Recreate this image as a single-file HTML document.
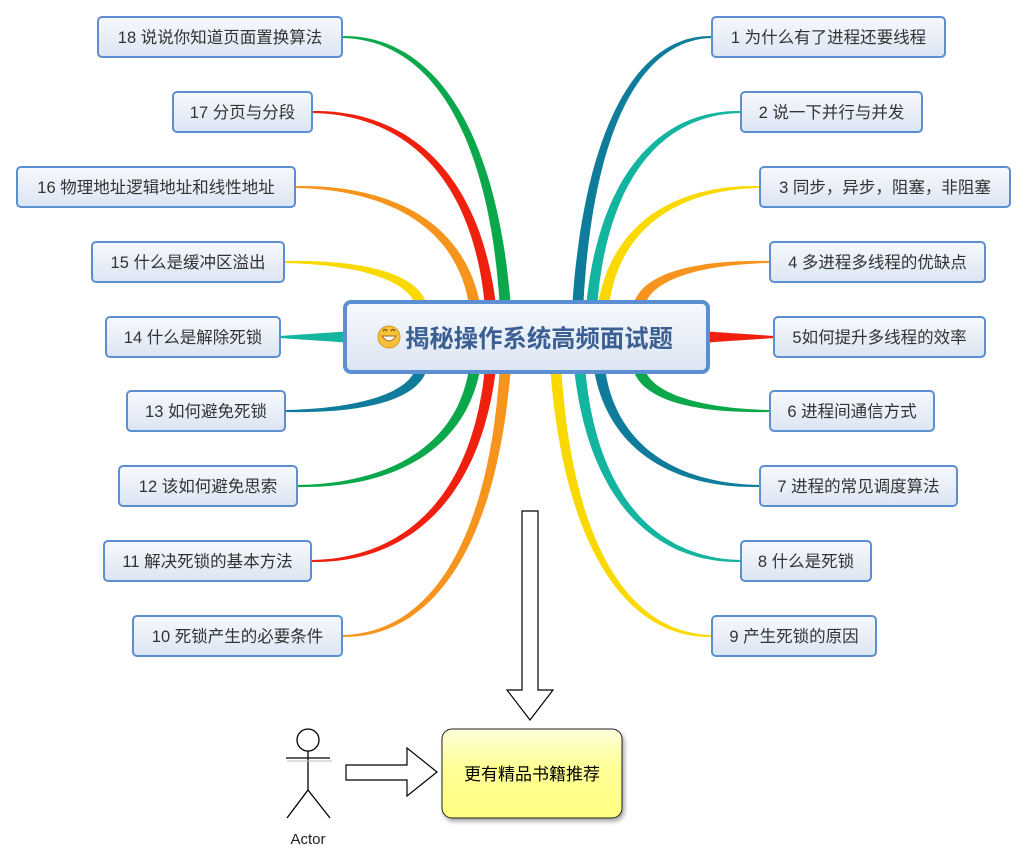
<!DOCTYPE html>
<html><head><meta charset="utf-8"><style>
html,body{margin:0;padding:0;background:#fff;}
svg{display:block;font-family:"Liberation Sans","Noto Sans CJK SC",sans-serif;}
</style></head><body>
<svg id="s" width="1029" height="851" viewBox="0 0 1029 851" xmlns="http://www.w3.org/2000/svg">
<defs>
<linearGradient id="ng" x1="0" y1="0" x2="0" y2="1"><stop offset="0" stop-color="#f7f9fd"/><stop offset="1" stop-color="#dbe5f3"/></linearGradient>
<linearGradient id="yg" x1="0" y1="0" x2="0" y2="1"><stop offset="0" stop-color="#ffffdd"/><stop offset="0.4" stop-color="#ffff99"/><stop offset="1" stop-color="#ffff80"/></linearGradient>
<filter id="sh" x="-10%" y="-10%" width="130%" height="130%"><feDropShadow dx="2" dy="3" stdDeviation="2" flood-color="#000" flood-opacity="0.35"/></filter>
</defs>
<g id="br"></g>
<g id="nodes"></g>
<rect x="345" y="302" width="363" height="70" rx="6" fill="url(#ng)" stroke="#5b8fd1" stroke-width="4"/>
<circle cx="389" cy="337" r="11" fill="#f7c23a" stroke="#d99a1a" stroke-width="1"/>
<path d="M382 336 Q389 346 396 336 Z" fill="#fff" stroke="#a0621a" stroke-width="1"/>
<path d="M383 331 q2 -3 4 0 M391 331 q2 -3 4 0" stroke="#7a4a10" stroke-width="1.3" fill="none"/>
<text x="405" y="347" text-anchor="start" font-size="24.5" font-weight="bold" fill="#3b5f93" textLength="268" lengthAdjust="spacingAndGlyphs">揭秘操作系统高频面试题</text>
<path d="M522 511 H538 V690 H553 L530 720 L507 690 H522 Z" fill="#fff" stroke="#000" stroke-width="1.2"/>
<path d="M346 765 H407 V748 L437 772 L407 796 V780 H346 Z" fill="#fff" stroke="#000" stroke-width="1.2"/>
<rect x="442" y="729" width="180" height="89" rx="10" fill="url(#yg)" stroke="#222" stroke-width="1" filter="url(#sh)"/>
<text x="532" y="780" text-anchor="middle" font-size="17" fill="#000">更有精品书籍推荐</text>
<g stroke="#000" stroke-width="1.3" fill="none">
<circle cx="308" cy="740" r="11" fill="#fff"/>
<line x1="308" y1="751" x2="308" y2="790"/>
<line x1="286" y1="758" x2="330" y2="758"/>
<line x1="308" y1="790" x2="287" y2="818"/>
<line x1="308" y1="790" x2="330" y2="818"/>
</g>
<line x1="287" y1="761" x2="332" y2="761" stroke="#bbb" stroke-width="1"/>
<text x="308" y="844" text-anchor="middle" font-size="15" fill="#222">Actor</text>
</svg>
<script>
var NS="http://www.w3.org/2000/svg";
var C={tb:"#0e7c9a",te:"#14b5a0",ye:"#f9d900",or:"#f7941d",re:"#f0200f",gr:"#0aa84a"};
var R=[["1 为什么有了进程还要线程",712,945,37,578,302,C.tb],
["2 说一下并行与并发",741,922,112,592,302,C.te],
["3 同步，异步，阻塞，非阻塞",760,1010,187,604,302,C.ye],
["4 多进程多线程的优缺点",770,985,262,640,302,C.or],
["5如何提升多线程的效率",774,985,337,708,337,C.re],
["6 进程间通信方式",770,934,411,640,372,C.gr],
["7 进程的常见调度算法",760,957,486,600,372,C.tb],
["8 什么是死锁",741,871,561,580,372,C.te],
["9 产生死锁的原因",712,876,636,556,372,C.ye]];
var L=[["18 说说你知道页面置换算法",98,342,37,505,302,C.gr],
["17 分页与分段",173,312,112,490,302,C.re],
["16 物理地址逻辑地址和线性地址",17,295,187,474,302,C.or],
["15 什么是缓冲区溢出",92,284,262,420,302,C.ye],
["14 什么是解除死锁",106,280,337,345,337,C.te],
["13 如何避免死锁",127,285,411,420,372,C.tb],
["12 该如何避免思索",119,297,486,474,372,C.gr],
["11 解决死锁的基本方法",104,311,561,490,372,C.re],
["10 死锁产生的必要条件",133,342,636,505,372,C.or]];
var br=document.getElementById("br"),nd=document.getElementById("nodes");
function bez(p,t){var u=1-t;return [u*u*u*p[0][0]+3*u*u*t*p[1][0]+3*u*t*t*p[2][0]+t*t*t*p[3][0],u*u*u*p[0][1]+3*u*u*t*p[1][1]+3*u*t*t*p[2][1]+t*t*t*p[3][1]];}
function branch(sx,sy,ex,ey,col){
 var p;
 if(sy===337&&ey===337){p=[[sx,sy],[sx+(ex-sx)*0.3,sy],[sx+(ex-sx)*0.7,ey],[ex,ey]];}
 else p=[[sx,sy],[sx+(ex-sx)*0.08,sy+(ey-sy)*0.65],[sx+(ex-sx)*0.45,ey],[ex,ey]];
 var N=40,a=[],b=[];
 for(var i=0;i<=N;i++){var t=i/N,q=bez(p,t),q2=bez(p,Math.min(1,t+0.01)),q1=bez(p,Math.max(0,t-0.01));
  var dx=q2[0]-q1[0],dy=q2[1]-q1[1],l=Math.hypot(dx,dy)||1,w=(11*(1-t)+2*t)/2;
  a.push([q[0]-dy/l*w,q[1]+dx/l*w]);b.push([q[0]+dy/l*w,q[1]-dx/l*w]);}
 var d="M"+a.map(function(v){return v[0].toFixed(1)+" "+v[1].toFixed(1)}).join(" L")+" L"+b.reverse().map(function(v){return v[0].toFixed(1)+" "+v[1].toFixed(1)}).join(" L")+"Z";
 var e=document.createElementNS(NS,"path");e.setAttribute("d",d);e.setAttribute("fill",col);br.appendChild(e);
}
function node(t,x1,x2,cy){
 var r=document.createElementNS(NS,"rect");r.setAttribute("x",x1);r.setAttribute("y",cy-20);r.setAttribute("width",x2-x1);r.setAttribute("height",40);r.setAttribute("rx",4);r.setAttribute("fill","url(#ng)");r.setAttribute("stroke","#5b8fd1");r.setAttribute("stroke-width","2");nd.appendChild(r);
 var tx=document.createElementNS(NS,"text");tx.setAttribute("x",(x1+x2)/2);tx.setAttribute("y",cy+6);tx.setAttribute("text-anchor","middle");tx.setAttribute("font-size","16.5");tx.setAttribute("fill","#333");tx.textContent=t;nd.appendChild(tx);
}
R.forEach(function(n){branch(n[4],n[5],n[1],n[3],n[6]);node(n[0],n[1],n[2],n[3]);});
L.forEach(function(n){branch(n[4],n[5],n[2],n[3],n[6]);node(n[0],n[1],n[2],n[3]);});
</script>
</body></html>
